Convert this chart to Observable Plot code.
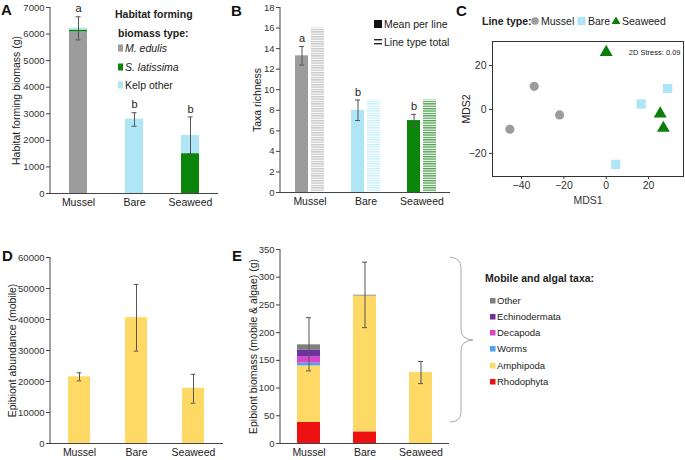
<!DOCTYPE html>
<html><head><meta charset="utf-8">
<script src="https://cdn.jsdelivr.net/npm/d3@7"></script>
<script src="https://cdn.jsdelivr.net/npm/@observablehq/plot@0.6"></script>
<style>
body{margin:0;background:#fff;}
#root{position:relative;width:685px;height:460px;overflow:hidden;background:#fff;font-family:"Liberation Sans",Arial,sans-serif;}
#root svg{position:absolute;}
</style></head>
<body><div id="root"></div>
<script>
// ---------- data ----------
const lines = ["Mussel", "Bare", "Seaweed"];
const lineColors = ["#9c9c9c", "#aee6f6", "#0b860b"];
const stripeColors = ["#c4c4c4", "#c6eef9", "#4f9f4f"];

// A: habitat forming biomass
const habitatTypes = ["M. edulis", "S. latissima", "Kelp other"];
const habitatColors = ["#9c9c9c", "#0b860b", "#aee6f6"];
const habitatMussel = [6080, 70, 70];
const habitatBare = [0, 0, 2800];
const habitatSeaweed = [0, 1500, 680];
const habitatErrLo = [5780, 2530, 1490];
const habitatErrHi = [6650, 3040, 2880];
const habitatLetters = ["a", "b", "b"];
const habitatTicks = [0, 1000, 2000, 3000, 4000, 5000, 6000, 7000];

// B: taxa richness
const richnessMean = [13.3, 8, 7];
const richnessLo = [12.4, 7, 6.4];
const richnessHi = [14.2, 9, 7.6];
const richnessTotal = [16, 9, 9];
const richnessLetters = ["a", "b", "b"];
const richnessTicks = [0, 2, 4, 6, 8, 10, 12, 14, 16, 18];

// C: nMDS
const mdsLine = ["Mussel", "Mussel", "Mussel", "Bare", "Bare", "Bare", "Seaweed", "Seaweed", "Seaweed"];
const mds1 = [-45.5, -34, -22, 4.5, 16.5, 29, 0, 25.5, 27];
const mds2 = [-9, 10.5, -2.5, -25, 2.5, 9.5, 26, -2, -8.5];
const mdsXTicks = [-40, -20, 0, 20];
const mdsYTicks = [-20, 0, 20];

// D: epibiont abundance
const abundance = [21500, 40600, 17800];
const abundanceLo = [20200, 29800, 13000];
const abundanceHi = [22800, 51300, 22300];
const abundanceTicks = [0, 10000, 20000, 30000, 40000, 50000, 60000];

// E: epibiont biomass
const taxa = ["Rhodophyta", "Amphipoda", "Worms", "Decapoda", "Echinodermata", "Other"];
const taxaColors = ["#ee1111", "#ffd966", "#4da3ef", "#dd44cc", "#7030a0", "#808080"];
const biomassMussel = [38, 102, 5, 11, 12, 10];
const biomassBare = [21, 245, 0, 0, 0, 1.5];
const biomassSeaweed = [0, 128, 0, 0, 0, 0];
const biomassLo = [131, 209, 108];
const biomassHi = [227, 327, 148];
const biomassTicks = [0, 50, 100, 150, 200, 250, 300, 350];

// ---------- helpers ----------
const root = document.getElementById("root");
const FONT = '"Liberation Sans", Arial, sans-serif';
const AX = "#444";
const ERR = "#555";
function place(node, left, top) { node.style.left = left + "px"; node.style.top = top + "px"; root.appendChild(node); return node; }
function bandX(rangeW, barW) { const step = rangeW / 3, pi = 1 - barW / step; return {domain: lines, paddingInner: pi, paddingOuter: pi / 2, axis: null}; }
const baseStyle = {fontFamily: FONT, fontSize: "10px", color: "#222", background: "transparent", overflow: "visible"};
const leftLine = (index, scales, values, dims) => {
  return d3.create("svg:line").attr("x1", dims.marginLeft).attr("x2", dims.marginLeft)
    .attr("y1", dims.marginTop).attr("y2", dims.height - dims.marginBottom).attr("stroke", AX).node();
};
function errorMarks(rows, capInset, dx = 0, capL = capInset, capR = capInset) {
  return [
    Plot.ruleX(rows, {x: "line", y1: "lo", y2: "hi", dx, stroke: ERR, strokeWidth: 1}),
    Plot.tickY(rows, {x: "line", y: "lo", stroke: ERR, insetLeft: capL, insetRight: capR}),
    Plot.tickY(rows, {x: "line", y: "hi", stroke: ERR, insetLeft: capL, insetRight: capR})
  ];
}
function yLabel(label, offset) {
  return Plot.text([label], {text: d => d, frameAnchor: "left", rotate: -90, dx: -offset, textAnchor: "middle",
    lineAnchor: "middle", fontSize: 10.5, fill: "#222"});
}
function barAxes(ticks, label, labelOffset) {
  return [
    Plot.axisY({ticks, tickFormat: "d", tickSize: 4, tickPadding: 2, stroke: AX, fill: "#333", fontSize: 9.5, label: null}),
    yLabel(label, labelOffset),
    Plot.axisX({tickSize: 0, tickPadding: 5, label: null, fontSize: 10.5, fill: "#222"}),
    Plot.ruleY([0], {stroke: AX}),
    leftLine
  ];
}

// ---------- Panel A ----------
const habitatByLine = [habitatMussel, habitatBare, habitatSeaweed];
const aRows = lines.flatMap((l, i) => habitatTypes.map((t, j) => ({line: l, type: t, value: habitatByLine[i][j]})));
const aErr = lines.map((l, i) => ({line: l, lo: habitatErrLo[i], hi: habitatErrHi[i], letter: habitatLetters[i]}));
const plotA = Plot.plot({
  width: 230, height: 215, marginLeft: 50, marginRight: 12, marginTop: 7, marginBottom: 22,
  style: baseStyle,
  x: bandX(168, 18),
  y: {domain: [0, 7000], axis: null},
  color: {domain: habitatTypes, range: habitatColors},
  marks: [
    Plot.barY(aRows, Plot.stackY({x: "line", y: "value", fill: "type", order: habitatTypes})),
    ...errorMarks(aErr, 6.5),
    Plot.text(aErr, {x: "line", y: "hi", text: "letter", dy: -8, fontSize: 11, fill: "#222"}),
    ...barAxes(habitatTicks, "Habitat forming biomass (g)", 34)
  ]
});
place(plotA, 0, 0);

// ---------- Panel B ----------
const bRows = lines.map((l, i) => ({line: l, mean: richnessMean[i], lo: richnessLo[i], hi: richnessHi[i], total: richnessTotal[i], letter: richnessLetters[i]}));
const defsB = () => {
  const g = d3.create("svg:defs");
  lines.forEach((l, i) => {
    const p = g.append("pattern").attr("id", "stripe" + i).attr("patternUnits", "userSpaceOnUse").attr("width", 4).attr("height", 2.4);
    p.append("rect").attr("width", 4).attr("height", 2.4).attr("fill", "#fff");
    p.append("rect").attr("width", 4).attr("height", 1.3).attr("fill", stripeColors[i]);
  });
  return g.node();
};
const plotB = Plot.plot({
  width: 230, height: 215, marginLeft: 50, marginRight: 10, marginTop: 7, marginBottom: 23,
  style: baseStyle,
  x: bandX(170, 29),
  y: {domain: [0, 18], axis: null},
  color: {domain: lines, range: lineColors},
  marks: [
    defsB,
    Plot.barY(bRows, {x: "line", y: "mean", fill: "line", insetRight: 16}),
    ...lines.map((l, i) => Plot.barY(bRows.filter(d => d.line === l), {x: "line", y: "total", fill: `url(#stripe${i})`, insetLeft: 16})),
    ...errorMarks(bRows, 0, -8, 4, 20),
    Plot.text(bRows, {x: "line", y: "hi", text: "letter", dx: -8, dy: -8, fontSize: 11, fill: "#222"}),
    ...barAxes(richnessTicks, "Taxa richness", 23)
  ]
});
place(plotB, 230, 0);

// ---------- Panel C ----------
const cRows = mdsLine.map((l, i) => ({line: l, x: mds1[i], y: mds2[i]}));
const plotC = Plot.plot({
  width: 235, height: 215, marginLeft: 42, marginRight: 2, marginTop: 41, marginBottom: 39,
  style: baseStyle,
  x: {domain: [-53.7, 36.5], axis: null},
  y: {domain: [-30.5, 30.9], axis: null},
  marks: [
    Plot.frame({stroke: "#333"}),
    Plot.dot(cRows.filter(d => d.line === "Mussel"), {x: "x", y: "y", r: 4.6, symbol: "circle", fill: lineColors[0]}),
    Plot.dot(cRows.filter(d => d.line === "Bare"), {x: "x", y: "y", r: 5.2, symbol: "square", fill: lineColors[1]}),
    Plot.dot(cRows.filter(d => d.line === "Seaweed"), {x: "x", y: "y", r: 4.8, symbol: "triangle", fill: "#0b7d0b"}),
    Plot.text(["2D Stress: 0.09"], {text: d => d, frameAnchor: "top-right", dx: -3, dy: 8, fontSize: 7.5, fill: "#222"}),
    Plot.axisX({ticks: mdsXTicks, tickSize: 3, tickPadding: 2, stroke: "#333", fill: "#333", fontSize: 10.5,
      label: "MDS1", labelAnchor: "center", labelOffset: 27, labelArrow: "none"}),
    Plot.axisY({ticks: mdsYTicks, tickSize: 3, tickPadding: 3, stroke: "#333", fill: "#333", fontSize: 10.5, label: null}),
    yLabel("MDS2", 26)
  ]
});
place(plotC, 450, 0);

// ---------- Panel D ----------
const dRows = lines.map((l, i) => ({line: l, value: abundance[i], lo: abundanceLo[i], hi: abundanceHi[i]}));
const plotD = Plot.plot({
  width: 230, height: 230, marginLeft: 50, marginRight: 7, marginTop: 27, marginBottom: 17,
  style: baseStyle,
  x: bandX(173, 22.5),
  y: {domain: [0, 60000], axis: null},
  marks: [
    Plot.barY(dRows, {x: "line", y: "value", fill: "#ffd966"}),
    ...errorMarks(dRows, 8.75),
    ...barAxes(abundanceTicks, "Epibiont abundance (mobile)", 38)
  ]
});
place(plotD, 0, 230);

// ---------- Panel E ----------
const biomassByLine = [biomassMussel, biomassBare, biomassSeaweed];
const eRows = lines.flatMap((l, i) => taxa.map((t, j) => ({line: l, taxon: t, value: biomassByLine[i][j]})));
const eErr = lines.map((l, i) => ({line: l, lo: biomassLo[i], hi: biomassHi[i]}));
const plotE = Plot.plot({
  width: 230, height: 230, marginLeft: 50, marginRight: 11, marginTop: 19, marginBottom: 17,
  style: baseStyle,
  x: bandX(169, 23),
  y: {domain: [0, 350], axis: null},
  color: {domain: taxa, range: taxaColors},
  marks: [
    Plot.barY(eRows, Plot.stackY({x: "line", y: "value", fill: "taxon", order: taxa})),
    ...errorMarks(eErr, 9),
    ...barAxes(biomassTicks, "Epibiont biomass (mobile & algae) (g)", 27)
  ]
});
place(plotE, 230, 230);

// ---------- overlay: panel letters & legends ----------
const ov = d3.create("svg").attr("width", 685).attr("height", 460)
  .style("left", "0px").style("top", "0px").style("pointer-events", "none")
  .attr("font-family", FONT).attr("fill", "#222");
const letters = [["A", 1, 15], ["B", 231, 16], ["C", 456, 16], ["D", 2, 261], ["E", 232, 261]];
ov.selectAll("text.pl").data(letters).join("text").attr("class", "pl")
  .attr("x", d => d[1]).attr("y", d => d[2]).attr("font-size", 15).attr("font-weight", "bold").attr("fill", "#111").text(d => d[0]);

// Legend A
ov.append("text").attr("x", 115).attr("y", 18).attr("font-size", 10.5).attr("font-weight", "bold").text("Habitat forming");
ov.append("text").attr("x", 118).attr("y", 37).attr("font-size", 10.5).attr("font-weight", "bold").text("biomass type:");
const legAy = [48, 67, 85];
habitatTypes.forEach((t, i) => {
  ov.append("rect").attr("x", 118).attr("y", legAy[i] - 3.5).attr("width", 5).attr("height", 7).attr("fill", habitatColors[i]);
  ov.append("text").attr("x", 125).attr("y", legAy[i] + 3.7).attr("font-size", 10.5)
    .attr("font-style", i < 2 ? "italic" : "normal").text(t);
});

// Legend B
ov.append("rect").attr("x", 374).attr("y", 20).attr("width", 8).attr("height", 8).attr("fill", "#111");
ov.append("text").attr("x", 384).attr("y", 27.5).attr("font-size", 10.5).text("Mean per line");
ov.append("rect").attr("x", 374).attr("y", 39).attr("width", 8).attr("height", 1.4).attr("fill", "#222");
ov.append("rect").attr("x", 374).attr("y", 43).attr("width", 8).attr("height", 1.4).attr("fill", "#222");
ov.append("text").attr("x", 384).attr("y", 45.5).attr("font-size", 10.5).text("Line type total");

// Legend C
ov.append("text").attr("x", 482).attr("y", 24.5).attr("font-size", 10.5).attr("font-weight", "bold").text("Line type:");
ov.append("circle").attr("cx", 535).attr("cy", 21).attr("r", 3.8).attr("fill", lineColors[0]);
ov.append("text").attr("x", 541).attr("y", 24.5).attr("font-size", 10.5).text("Mussel");
ov.append("rect").attr("x", 577.5).attr("y", 17).attr("width", 8).attr("height", 8).attr("fill", lineColors[1]);
ov.append("text").attr("x", 588).attr("y", 24.5).attr("font-size", 10.5).text("Bare");
ov.append("path").attr("d", d3.symbol(d3.symbolTriangle, 34)()).attr("transform", "translate(616,21.5)").attr("fill", "#0b7d0b");
ov.append("text").attr("x", 622).attr("y", 24.5).attr("font-size", 10.5).text("Seaweed");

// Legend E with brace
ov.append("path").attr("d", "M450,257 Q461,258 461,268 L461,330 Q461,339 473,340 Q461,341 461,350 L461,412 Q461,422 450,422")
  .attr("fill", "none").attr("stroke", "#aaa").attr("stroke-width", 1);
ov.append("text").attr("x", 485).attr("y", 282).attr("font-size", 10.5).attr("font-weight", "bold").text("Mobile and algal taxa:");
const legEy = [301, 317, 333, 349, 366, 382];
taxa.slice().reverse().forEach((t, i) => {
  const c = taxaColors[taxa.length - 1 - i];
  ov.append("rect").attr("x", 490).attr("y", legEy[i] - 3).attr("width", 5.5).attr("height", 5.5).attr("fill", c);
  ov.append("text").attr("x", 497).attr("y", legEy[i] + 3.3).attr("font-size", 9.5).text(t);
});
root.appendChild(ov.node());
</script>
</body></html>
